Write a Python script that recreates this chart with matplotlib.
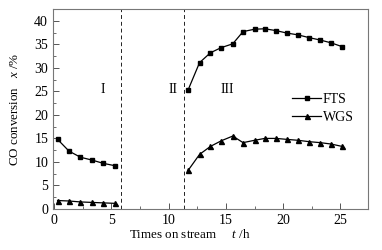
import matplotlib
matplotlib.use("Agg")
import matplotlib.pyplot as plt
from matplotlib.ticker import MultipleLocator

plt.rcParams['font.family'] = ['Liberation Serif', 'DejaVu Serif']
plt.rcParams['mathtext.fontset'] = 'custom'
plt.rcParams['mathtext.it'] = 'Liberation Serif:italic'
plt.rcParams['mathtext.rm'] = 'Liberation Serif'

# Stage I
t1 = [0.3, 1.3, 2.3, 3.3, 4.3, 5.3]
fts1 = [14.8, 12.3, 11.0, 10.4, 9.7, 9.2]
wgs1 = [1.8, 1.7, 1.5, 1.4, 1.3, 1.2]

# Stage III
t3 = [11.7, 12.7, 13.65, 14.6, 15.6, 16.5, 17.5, 18.4, 19.4, 20.3, 21.3, 22.3, 23.25, 24.2, 25.15]
fts3 = [25.3, 31.1, 33.2, 34.3, 35.1, 37.7, 38.2, 38.3, 37.9, 37.4, 37.0, 36.4, 35.9, 35.3, 34.5]
wgs3 = [8.2, 11.6, 13.3, 14.5, 15.5, 14.1, 14.6, 15.0, 15.0, 14.8, 14.6, 14.3, 14.1, 13.8, 13.3]

boundaries = [5.8, 11.3]
stage_labels = ["I", "II", "III"]
stage_pos = [(4.25, 25.3), (10.4, 25.3), (15.1, 25.3)]

fig = plt.figure(figsize=(3.82, 2.5), dpi=100)
ax = fig.add_axes([0.1387, 0.164, 0.8243, 0.80])

lw = 0.9
ax.plot(t1, fts1, '-', color='black', marker='s', ms=3, lw=lw, label='FTS')
ax.plot(t1, wgs1, '-', color='black', marker='^', ms=3.6, lw=lw, label='WGS')
ax.plot(t3, fts3, '-', color='black', marker='s', ms=3, lw=lw)
ax.plot(t3, wgs3, '-', color='black', marker='^', ms=3.6, lw=lw)

for b in boundaries:
    ax.axvline(b, color='#222222', ls=(0, (4, 3)), lw=0.7)

for lab, (x, y) in zip(stage_labels, stage_pos):
    ax.text(x, y, lab, fontsize=10, ha='center', va='center')

ax.set_xlim(-0.1, 27.4)
ax.set_ylim(0, 42.5)
ax.xaxis.set_major_locator(MultipleLocator(5))
ax.xaxis.set_minor_locator(MultipleLocator(2.5))
ax.yaxis.set_major_locator(MultipleLocator(5))
ax.yaxis.set_minor_locator(MultipleLocator(2.5))
ax.tick_params(which='both', direction='in', labelsize=10, color='#555555')
ax.tick_params(which='major', length=4, width=0.7)
ax.tick_params(which='minor', length=2.5, width=0.6)
for s in ax.spines.values():
    s.set_color('#777777')
    s.set_linewidth(0.8)

ax.set_xlabel(r'Times on stream     $t$ /h', fontsize=9.4)
ax.set_ylabel(r'CO conversion   $x$ /%', fontsize=9.4)
ax.xaxis.set_label_coords(0.435, -0.093)
ax.yaxis.set_label_coords(-0.102, 0.5)

ax.legend(loc='upper left', bbox_to_anchor=(0.76, 0.58), frameon=False,
          fontsize=10, handlelength=2.1, handletextpad=0.1, labelspacing=0.35,
          borderaxespad=0, borderpad=0)

fig.savefig('out.png', dpi=100)
